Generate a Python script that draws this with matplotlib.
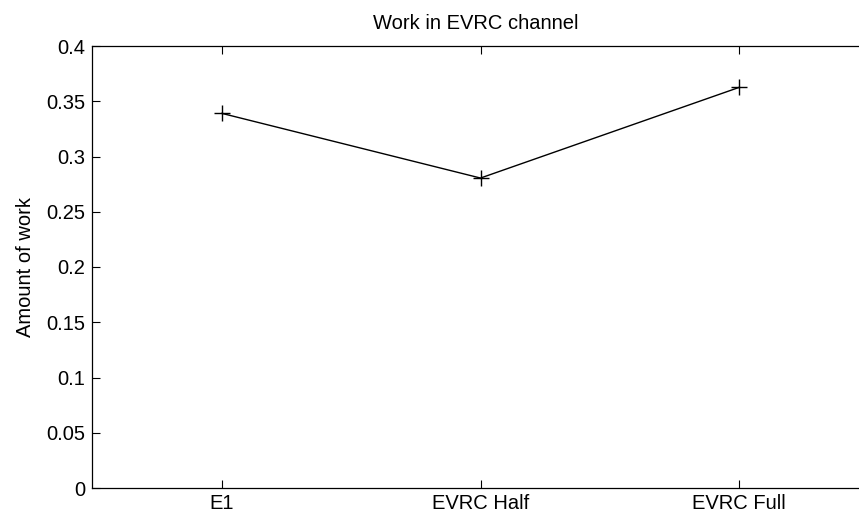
import matplotlib
matplotlib.use("Agg")
import matplotlib.pyplot as plt

categories = ["E1", "EVRC Half", "EVRC Full"]
work = [0.339, 0.2805, 0.3625]
y_ticks = [0, 0.05, 0.1, 0.15, 0.2, 0.25, 0.3, 0.35, 0.4]
y_labels = ["0", "0.05", "0.1", "0.15", "0.2", "0.25", "0.3", "0.35", "0.4"]

plt.rcParams["font.family"] = ["Liberation Sans", "DejaVu Sans"]
FS = 14.5

fig = plt.figure(figsize=(8.59, 5.18), dpi=100)
# axes reach the right edge; the x-range is cut so the box looks open there
ax = fig.add_axes([92 / 859, 30 / 518, 1 - 92 / 859, 442 / 518])

x = list(range(1, len(categories) + 1))
ax.plot(x, work, color="black", lw=1.0, marker="+", ms=11, mew=1.0)

step = 258.5  # pixels per category
ax.set_xlim(1 - 130 / step, len(categories) + 120 / step)
ax.set_ylim(0, 0.4)
ax.set_xticks(x)
ax.set_xticklabels(categories)
ax.set_yticks(y_ticks)
ax.set_yticklabels(y_labels)

ax.tick_params(direction="in", length=6, width=0.8, labelsize=FS,
               top=True, right=False, colors="black")
ax.tick_params(axis="y", pad=5)
ax.tick_params(axis="x", pad=4)
ax.spines["right"].set_visible(False)
for s in ax.spines.values():
    s.set_linewidth(0.9)

ax.set_title("Work in EVRC channel", fontsize=FS, pad=12)
ax.set_ylabel("Amount of work", fontsize=FS, labelpad=8)

fig.savefig("out.png", dpi=100)
